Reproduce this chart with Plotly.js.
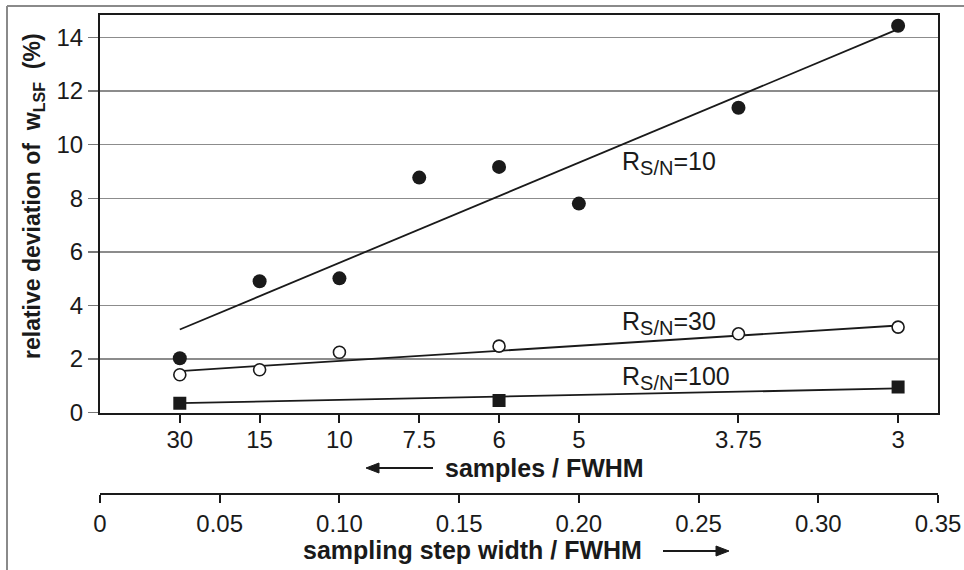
<!DOCTYPE html>
<html>
<head>
<meta charset="utf-8">
<script src="https://cdn.plot.ly/plotly-3.0.1.min.js"></script>
<style>html,body{margin:0;padding:0;background:#fff;}#chart{width:964px;height:570px;}</style>
</head>
<body>
<div id="chart"></div>
<script>
// ---- data ----
var samplesPerFWHM = [30, 15, 10, 7.5, 6, 5, 3.75, 3];
var samplesLabels  = ['30', '15', '10', '7.5', '6', '5', '3.75', '3'];
var stepTicks      = [0, 0.05, 0.10, 0.15, 0.20, 0.25, 0.30, 0.35];
var stepTickLabels = ['0', '0.05', '0.10', '0.15', '0.20', '0.25', '0.30', '0.35'];

var devSN10  = [2.03, 4.90, 5.01, 8.77, 9.17, 7.80, 11.38, 14.44];
var devSN30  = [1.41, 1.60, 2.25, null, 2.48, null, 2.94, 3.19];
var devSN100 = [0.35, null, null, null, 0.45, null, null, 0.95];

var fitSamples = [30, 3];
var fitSN10  = [3.10, 14.31];
var fitSN30  = [1.55, 3.25];
var fitSN100 = [0.35, 0.90];

// ---- build ----
var stepWidth = samplesPerFWHM.map(function (s) { return 1 / s; });
var fitStep = fitSamples.map(function (s) { return 1 / s; });

var FONT = '"Liberation Sans", Arial, Helvetica, sans-serif';
var INK = '#1a1a1a';

function fitLine(y) {
  return {x: fitStep, y: y, mode: 'lines', type: 'scatter',
          line: {color: INK, width: 1.8}, hoverinfo: 'skip', showlegend: false};
}

var traces = [
  fitLine(fitSN10), fitLine(fitSN30), fitLine(fitSN100),
  {x: stepWidth, y: devSN10, mode: 'markers', type: 'scatter', showlegend: false,
   marker: {symbol: 'circle', size: 14, color: INK}},
  {x: stepWidth, y: devSN30, mode: 'markers', type: 'scatter', showlegend: false,
   marker: {symbol: 'circle', size: 12, color: '#fff', line: {color: INK, width: 1.6}}},
  {x: stepWidth, y: devSN100, mode: 'markers', type: 'scatter', showlegend: false,
   marker: {symbol: 'square', size: 13, color: INK}},
  {x: [stepTicks[0]], y: [0], xaxis: 'x2', mode: 'markers', type: 'scatter', showlegend: false,
   marker: {opacity: 0}, hoverinfo: 'skip'}
];

function px2x(px) { return (px - 100) / 838; }
function px2y(py) { return (494 - py) / 479; }

function arrowShapes(xTail, xHead, yPix) {
  var dir = xHead > xTail ? 1 : -1;
  var base = xHead - dir * 13;
  return [
    {type: 'line', xref: 'paper', yref: 'paper', x0: px2x(xTail), x1: px2x(base + dir * 2),
     y0: px2y(yPix), y1: px2y(yPix), line: {color: INK, width: 2}},
    {type: 'path', xref: 'paper', yref: 'paper',
     path: 'M ' + px2x(xHead) + ' ' + px2y(yPix) +
           ' L ' + px2x(base) + ' ' + px2y(yPix - 5) +
           ' L ' + px2x(base) + ' ' + px2y(yPix + 5) + ' Z',
     fillcolor: INK, line: {color: INK, width: 1}}
  ];
}

var rsn = function (v) {
  return 'R<sub><span style="font-size:20px">S/N</span></sub>=' + v;
};

var layout = {
  width: 964, height: 570,
  margin: {l: 100, r: 26, t: 15, b: 76, pad: 0},
  paper_bgcolor: '#fff', plot_bgcolor: '#fff',
  font: {family: FONT, size: 24, color: INK},
  showlegend: false,
  xaxis: {
    range: [0, 0.35], tickmode: 'array', tickvals: stepWidth, ticktext: samplesLabels,
    ticks: 'outside', ticklen: 8, tickwidth: 2, tickcolor: INK, ticklabelstandoff: -3,
    showline: true, linewidth: 2, linecolor: INK, mirror: true,
    showgrid: false, zeroline: false, fixedrange: true,
    tickfont: {size: 24, family: FONT, color: INK}
  },
  xaxis2: {
    overlaying: 'x', anchor: 'free', position: 0, side: 'bottom',
    range: [0, 0.35], tickmode: 'array', tickvals: stepTicks, ticktext: stepTickLabels,
    ticks: 'outside', ticklen: 8, tickwidth: 2, tickcolor: INK,
    showline: true, linewidth: 2, linecolor: INK,
    showgrid: false, zeroline: false,
    tickfont: {size: 24, family: FONT, color: INK}
  },
  yaxis: {
    domain: [0.170, 1], range: [0, 14.84], tickmode: 'linear', tick0: 0, dtick: 2,
    ticks: 'outside', ticklen: 10, tickwidth: 1.5, tickcolor: '#777',
    showline: true, linewidth: 2, linecolor: INK, mirror: true,
    showgrid: true, gridcolor: '#8c8c8c', gridwidth: 1.5, zeroline: false,
    tickfont: {size: 24, family: FONT, color: INK}
  },
  annotations: [
    {xref: 'paper', yref: 'paper', x: px2x(33), y: px2y(196), textangle: -90,
     text: '<b>relative deviation of  w<sub>LSF</sub>  (%)</b>', showarrow: false,
     xanchor: 'center', yanchor: 'middle', font: {size: 23, family: FONT, color: INK}},
    {xref: 'paper', yref: 'paper', x: px2x(443), y: px2y(468),
     text: '<b>samples / FWHM</b>', showarrow: false, xanchor: 'left', yanchor: 'middle',
     font: {size: 25, family: FONT, color: INK}},
    {xref: 'paper', yref: 'paper', x: px2x(301), y: px2y(550),
     text: '<b>sampling step width / FWHM</b>', showarrow: false, xanchor: 'left', yanchor: 'middle',
     font: {size: 25, family: FONT, color: INK}},
    {xref: 'paper', yref: 'paper', x: px2x(620), y: px2y(163),
     text: rsn('10'), showarrow: false, xanchor: 'left', yanchor: 'middle',
     font: {size: 25, family: FONT, color: INK}},
    {xref: 'paper', yref: 'paper', x: px2x(620), y: px2y(323),
     text: rsn('30'), showarrow: false, xanchor: 'left', yanchor: 'middle',
     font: {size: 25, family: FONT, color: INK}},
    {xref: 'paper', yref: 'paper', x: px2x(620), y: px2y(378),
     text: rsn('100'), showarrow: false, xanchor: 'left', yanchor: 'middle',
     font: {size: 25, family: FONT, color: INK}}
  ],
  shapes: [
    {type: 'line', xref: 'paper', yref: 'paper', x0: px2x(7), x1: px2x(966), y0: px2y(6), y1: px2y(6),
     line: {color: '#8a8a8a', width: 2}},
    {type: 'line', xref: 'paper', yref: 'paper', x0: px2x(7), x1: px2x(7), y0: px2y(6), y1: px2y(572),
     line: {color: '#8a8a8a', width: 2}}
  ].concat(arrowShapes(433, 366, 468)).concat(arrowShapes(663, 729, 551))
};

Plotly.newPlot('chart', traces, layout, {staticPlot: true, displayModeBar: false});
</script>
</body>
</html>
